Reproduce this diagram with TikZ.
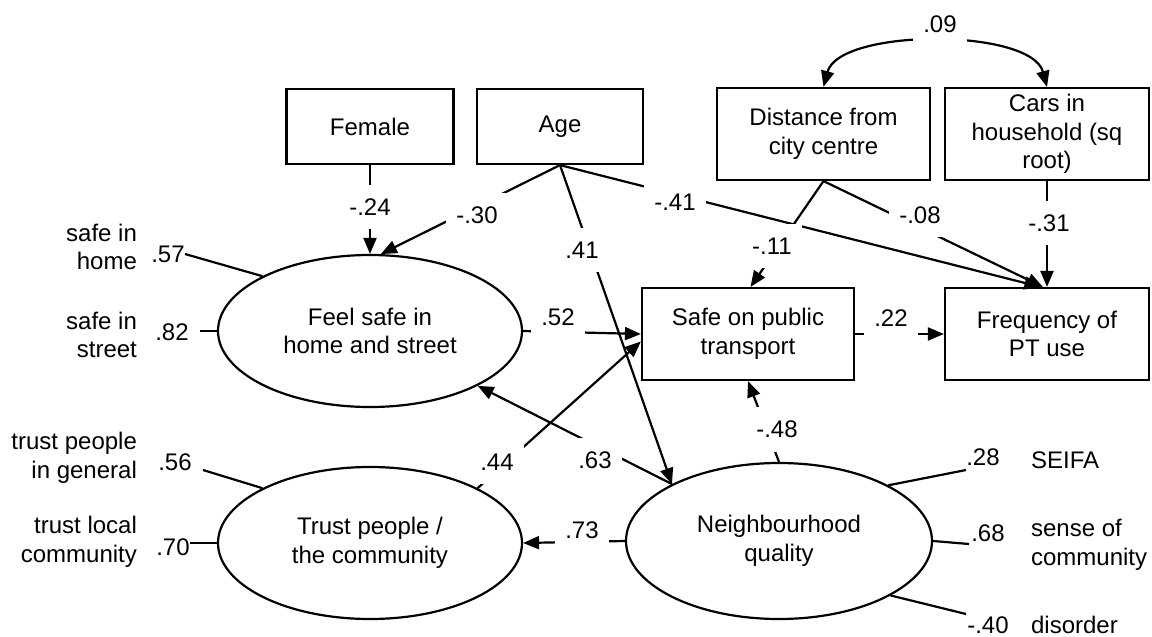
\documentclass[tikz,border=0pt]{standalone}
\usepackage{fontspec}
\setmainfont{Liberation Sans}
\usetikzlibrary{arrows.meta,shapes.geometric}

\begin{document}
\begin{tikzpicture}[x=1pt,y=-1pt,
    font=\fontsize{24}{28.5}\selectfont,
    line width=2.2pt,
    obsbox/.style={draw, rectangle, inner sep=0pt, align=center},
    latent/.style={draw, ellipse, minimum width=304pt, minimum height=152pt, inner sep=0pt, align=center},
    regarrow/.style={-{Triangle[length=16pt,width=13pt]}},
    covarrow/.style={{Triangle[length=16pt,width=13pt]}-{Triangle[length=16pt,width=13pt]}},
    coeflabel/.style={fill=white, inner xsep=10pt, inner ysep=14pt},
    indleft/.style={align=right, anchor=east, inner sep=0pt},
    indright/.style={align=left, anchor=west, inner sep=0pt}]

    % Page
    \fill[white] (0,0) rectangle (1152,637);
    \useasboundingbox (0,0) rectangle (1152,637);

    % Define the observed variables
    \node[obsbox, minimum width=167pt, minimum height=75pt] (female) at (370,126.5) {Female};
    \node[obsbox, minimum width=166pt, minimum height=75pt] (age) at (560,126.5) {Age};
    \node[obsbox, minimum width=213pt, minimum height=92pt] (dist) at (823.5,134) {Distance from\\city centre};
    \node[obsbox, minimum width=204pt, minimum height=92pt] (cars) at (1047,134) {Cars in\\household (sq\\root)};
    \node[obsbox, minimum width=212pt, minimum height=92pt] (safept) at (748,334) {Safe on public\\transport};
    \node[obsbox, minimum width=204pt, minimum height=92pt] (freq) at (1047,334) {Frequency of\\PT use};

    % Define the latent variables
    \node[latent] (feelsafe) at (370,331) {Feel safe in\\home and street};
    \node[latent] (trust) at (370,543) {Trust people /\\the community};
    \node[latent, minimum width=306pt, minimum height=156pt] (neigh) at (779,541) {Neighbourhood\\quality};

    % Free ends of the indicator lines
    \coordinate (h57) at (185,254);
    \coordinate (h82) at (200,331);
    \coordinate (t56) at (203,470);
    \coordinate (t70) at (190,543);
    \coordinate (n28) at (966,470);
    \coordinate (n68) at (969,544);
    \coordinate (n40) at (966,614);

    % Draw the paths
    \draw[regarrow] (female.south) -- (feelsafe.north);
    \draw[regarrow] (age.south) -- (feelsafe.82);
    \draw[regarrow] (age.south) -- (neigh.152);
    \draw[regarrow] (age.south) -- (freq.98);
    \draw[regarrow] (dist.south) -- (safept.87);
    \draw[regarrow] (dist.south) -- (freq.95);
    \draw[regarrow] (cars.south) -- (freq.north);
    \draw[regarrow] (feelsafe.east) -- (safept.west);
    \draw[regarrow] (trust.27) -- (safept.184);
    \draw[regarrow] (neigh.152) -- (feelsafe.333);
    \draw[regarrow] (neigh.north) -- (safept.south);
    \draw[regarrow] (neigh.west) -- (trust.east);
    \draw[regarrow] (safept.east) -- (freq.west);
    \draw[covarrow] (dist.north) to[out=75,in=105,looseness=0.7] (cars.north);

    % Draw the indicator lines
    \draw (feelsafe.153) -- (h57);
    \draw (feelsafe.west) -- (h82);
    \draw (trust.153) -- (t56);
    \draw (trust.west) -- (t70);
    \draw (neigh.27) -- (n28);
    \draw (neigh.east) -- (n68);
    \draw (neigh.334) -- (n40);

    % Label the paths
    \node[coeflabel] (c24) at (370,207) {-.24};
    \node[coeflabel] (c30) at (477,215) {-.30};
    \node[coeflabel] (c41) at (582,250) {.41};
    \node[coeflabel] (c41neg) at (675,202) {-.41};
    \node[coeflabel] (c11) at (772,246) {-.11};
    \node[coeflabel] (c08) at (920,215) {-.08};
    \node[coeflabel] (c31) at (1049,223) {-.31};
    \node[coeflabel] (c09) at (940,24) {.09};
    \node[coeflabel] (c52) at (558,317) {.52};
    \node[coeflabel] (c22) at (891,318) {.22};
    \node[coeflabel] (c44) at (497,462) {.44};
    \node[coeflabel] (c63) at (595,460) {.63};
    \node[coeflabel] (c48) at (777,429) {-.48};
    \node[coeflabel] (c73) at (582,530) {.73};

    % Label the loadings
    \node (l57) at (168,254) {.57};
    \node (l82) at (172,332) {.82};
    \node (l56) at (175,462) {.56};
    \node (l70) at (173,547) {.70};
    \node (l28) at (983,457) {.28};
    \node (l68) at (988,533) {.68};
    \node (l40) at (988,625) {-.40};

    % Label the indicators
    \node[indleft] (safehome) at (138,247) {safe in\\home};
    \node[indleft] (safestreet) at (138,335) {safe in\\street};
    \node[indleft] (trustgen) at (138,458) {trust people\\in general};
    \node[indleft] (trustloc) at (138,542) {trust local\\community};
    \node[indright] (seifa) at (1030,460) {SEIFA};
    \node[indright] (sense) at (1030,545) {sense of\\community};
    \node[indright] (disorder) at (1030,625) {disorder};

\end{tikzpicture}
\end{document}
